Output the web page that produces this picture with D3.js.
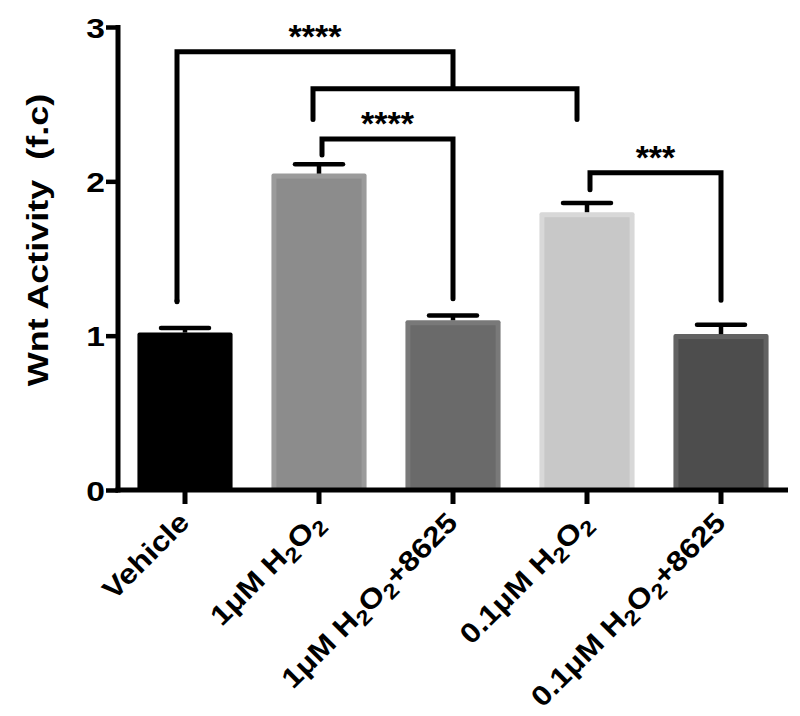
<!DOCTYPE html>
<html><head><meta charset="utf-8">
<script src="https://cdn.jsdelivr.net/npm/d3@7"></script>
<style>
body{margin:0;background:#fff;}
svg text{font-family:"Liberation Sans",Arial,Helvetica,sans-serif;}
</style></head>
<body><svg id="c" width="800" height="716"></svg>
<script>
// ---- data ----
const categories = ["Vehicle","1uM H2O2","1uM H2O2+8625","0.1uM H2O2","0.1uM H2O2+8625"];
const labelParts = [
  [["Vehicle",0]],
  [["1μM H",0],["2",1],["O",0],["2",1]],
  [["1μM H",0],["2",1],["O",0],["2",1],["+8625",0]],
  [["0.1μM H",0],["2",1],["O",0],["2",1]],
  [["0.1μM H",0],["2",1],["O",0],["2",1],["+8625",0]]
];
const means = [1.02, 2.05, 1.10, 1.80, 1.01];
const errors = [0.03, 0.06, 0.03, 0.06, 0.06];
const outerColors = ["#000000","#9b9b9b","#797979","#d8d8d8","#626262"];
const innerColors = ["#000000","#8c8c8c","#6a6a6a","#c8c8c8","#4d4d4d"];
const yTicks = [0,1,2,3];
const yTitle = "Wnt Activity  (f.c)";
// brackets: simple ones [left category, right category, top level, left foot level, right foot level, stars]
const simpleBrackets = [
  [1, 2, 2.275, 2.17, 1.24, "****"],
  [3, 4, 2.055, 1.945, 1.23, "***"]
];
// nested bracket: Vehicle vs (1uM H2O2 & 0.1uM H2O2)
const nestedOuter = {left:0, top:2.84, leftFoot:1.22, join:2.60, stars:"****"};
const nestedInner = {left:1, right:3, level:2.60, foot:2.40};

// ---- layout ----
const svg = d3.select("#c");
const x0 = 118, x1 = 788, yBottom = 490, yTop = 27;
const x = d3.scaleBand().domain(categories).range([x0, x1]).paddingInner(0).paddingOuter(0);
const y = d3.scaleLinear().domain([0,3]).range([yBottom, yTop]);
const cx = i => x(categories[i]) + x.bandwidth()/2;
const barW = x.bandwidth()*0.71;
const border = 5;

// bars
const g = svg.append("g");
g.selectAll("rect.outer").data(means).join("rect")
  .attr("x",(d,i)=>cx(i)-barW/2).attr("y",d=>y(d))
  .attr("width",barW).attr("height",d=>yBottom-y(d))
  .attr("rx",2).attr("fill",(d,i)=>outerColors[i]);
g.selectAll("rect.inner").data(means).join("rect")
  .attr("x",(d,i)=>cx(i)-barW/2+border).attr("y",d=>y(d)+border)
  .attr("width",barW-2*border).attr("height",d=>yBottom-y(d)-border)
  .attr("fill",(d,i)=>innerColors[i]);

// error bars
means.forEach((m,i)=>{
  g.append("line").attr("x1",cx(i)).attr("x2",cx(i)).attr("y1",y(m)).attr("y2",y(m+errors[i]))
    .attr("stroke","#000").attr("stroke-width",4.5);
  g.append("line").attr("x1",cx(i)-24).attr("x2",cx(i)+24).attr("y1",y(m+errors[i])).attr("y2",y(m+errors[i]))
    .attr("stroke","#000").attr("stroke-width",4.5).attr("stroke-linecap","round");
});

// axes
const yAxis = d3.axisLeft(y).tickValues(yTicks).tickSize(12).tickFormat(d3.format("d"));
const ya = svg.append("g").attr("transform",`translate(${x0},0)`).call(yAxis);
ya.select(".domain").attr("stroke","#000").attr("stroke-width",5).attr("d",`M0,${yBottom+2.5}V${yTop-2}`);
ya.selectAll(".tick line").attr("stroke","#000").attr("stroke-width",4.5);
ya.selectAll(".tick text").attr("x",0).attr("transform","translate(-13,0) scale(1.2,1)")
  .attr("dy","0.36em").attr("font-size",28).attr("font-weight","bold").attr("fill","#000");

const xAxis = d3.axisBottom(x).tickSize(14).tickFormat("");
const xa = svg.append("g").attr("transform",`translate(0,${yBottom})`).call(xAxis);
xa.select(".domain").attr("stroke","#000").attr("stroke-width",5).attr("d",`M${x0-2.5},0H${x1}`);
xa.selectAll(".tick line").attr("stroke","#000").attr("stroke-width",5);

// x labels
categories.forEach((c,i)=>{
  const t = svg.append("text").attr("text-anchor","end")
    .attr("transform",`translate(${cx(i)+6},${yBottom+34}) rotate(-45) scale(1.13,1)`)
    .attr("font-size",28).attr("font-weight","bold").attr("fill","#000");
  labelParts[i].forEach(([s,sub],k)=>{
    const ts = t.append("tspan").text(s);
    if(sub){ ts.attr("font-size",21).attr("dy","0.3em"); }
    else if(k>0 && labelParts[i][k-1][1]){ ts.attr("dy","-0.22em"); }
  });
});

// y title
svg.append("text").attr("transform","translate(48,240) rotate(-90) scale(1.2,1)")
  .attr("text-anchor","middle").attr("font-size",30).attr("font-weight","bold")
  .attr("fill","#000").style("white-space","pre").attr("xml:space","preserve").text(yTitle);

// brackets
const bk = svg.append("g").attr("fill","none").attr("stroke","#000").attr("stroke-width",5)
  .attr("stroke-linecap","round").attr("stroke-linejoin","miter");
const starText = (sx, sy, s) => svg.append("text").attr("x",sx).attr("y",sy).attr("text-anchor","middle")
  .attr("font-size",34).attr("font-weight","bold").attr("fill","#000").text(s);

simpleBrackets.forEach(([a,b,top,lf,rf,s])=>{
  const xl = cx(a)+3, xr = cx(b);
  bk.append("path").attr("d",`M${xl},${y(lf)}V${y(top)}H${xr}V${y(rf)}`);
  starText((xl+xr)/2, y(top)-4, s);
});
// nested
const xi1 = cx(nestedInner.left)-6, xi2 = cx(nestedInner.right)-10;
const xm = (cx(nestedInner.left)+cx(nestedInner.right))/2;
bk.append("path").attr("d",`M${xi1},${y(nestedInner.foot)}V${y(nestedInner.level)}H${xi2}V${y(nestedInner.foot)}`);
const xo = cx(nestedOuter.left)-8;
bk.append("path").attr("d",`M${xo},${y(nestedOuter.leftFoot)}V${y(nestedOuter.top)}H${xm}V${y(nestedOuter.join)}`)
  .attr("stroke-linecap","butt");
bk.append("path").attr("d",`M${xo},${y(nestedOuter.leftFoot)}v-1`);
starText((xo+xm)/2, y(nestedOuter.top)-4, nestedOuter.stars);
</script></body></html>
